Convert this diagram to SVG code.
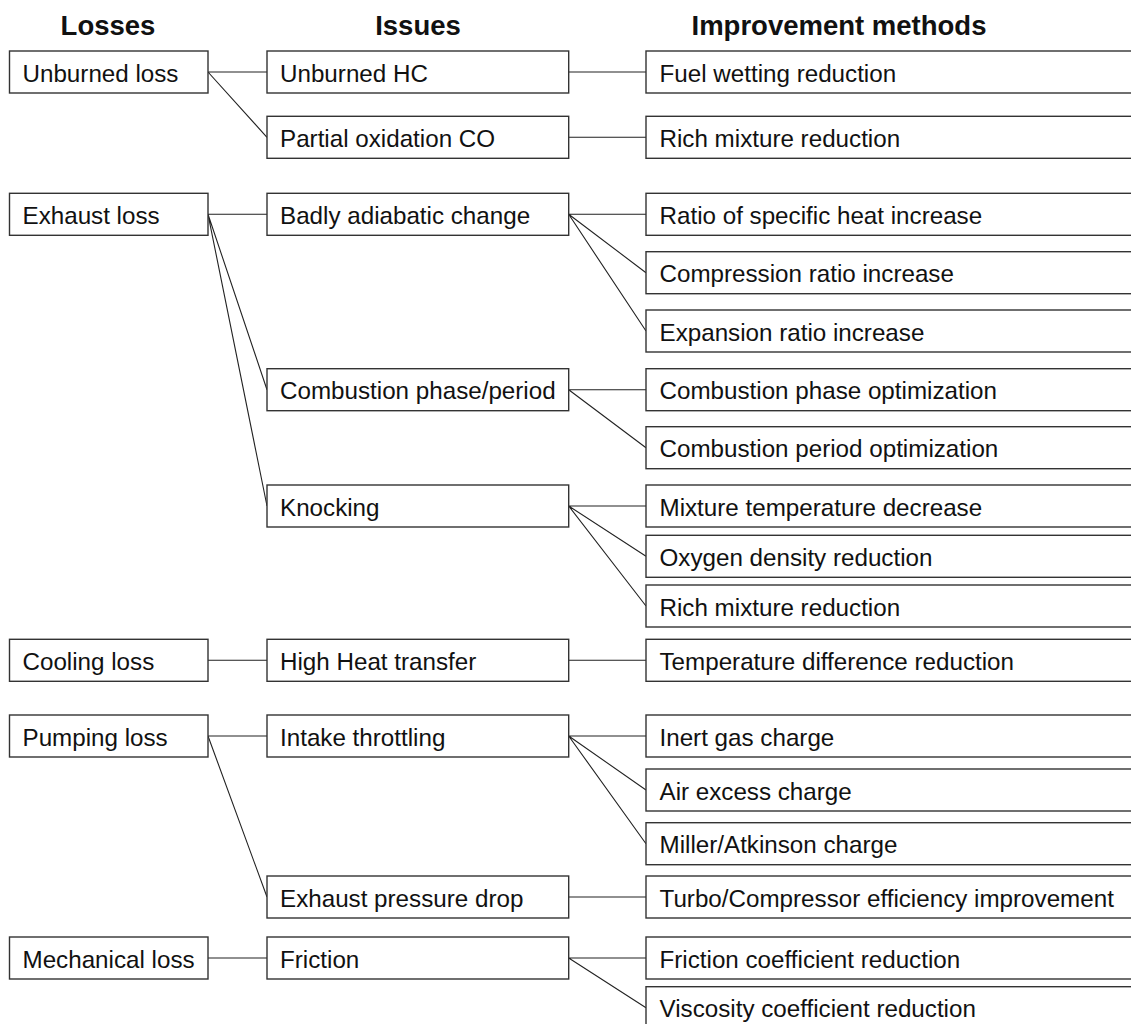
<svg xmlns="http://www.w3.org/2000/svg" width="1131" height="1024" viewBox="0 0 1131 1024">
<style>
.hd{font-family:"Liberation Sans",Arial,sans-serif;font-weight:bold;font-size:27.5px;fill:#111;text-anchor:middle}
.bx{fill:#fff;stroke:#333;stroke-width:1.4}
.tx{font-family:"Liberation Sans",Arial,sans-serif;font-size:24.2px;fill:#111}
.cn{stroke:#222;stroke-width:1.1;fill:none}
</style>
<rect width="1131" height="1024" fill="#fff"/>
<g id="headers">
<text class="hd" x="108" y="35">Losses</text>
<text class="hd" x="418" y="35">Issues</text>
<text class="hd" x="839" y="35">Improvement methods</text>
</g>
<g id="connectors">
<path class="cn" d="M208,72H267M208,72L267,137.3"/>
<path class="cn" d="M568.7,72H646M568.7,137.3H646"/>
<path class="cn" d="M208,214.3H267M208,214.3L267,389.7M208,214.3L267,506"/>
<path class="cn" d="M568.7,214.3H646M568.7,214.3L646,272.7M568.7,214.3L646,331"/>
<path class="cn" d="M568.7,389.7H646M568.7,389.7L646,447.7"/>
<path class="cn" d="M568.7,506H646M568.7,506L646,556.3M568.7,506L646,606"/>
<path class="cn" d="M208,660.3H267M568.7,660.3H646"/>
<path class="cn" d="M208,736H267M208,736L267,897"/>
<path class="cn" d="M568.7,736H646M568.7,736L646,790M568.7,736L646,843.7"/>
<path class="cn" d="M568.7,897H646"/>
<path class="cn" d="M208,958H267M568.7,958H646M568.7,958L646,1007.7"/>
</g>
<g id="loss-unburned"><rect class="bx" x="9.5" y="51" width="198.5" height="42"/><text class="tx" x="22.5" y="81.5">Unburned loss</text></g>
<g id="loss-exhaust"><rect class="bx" x="9.5" y="193.3" width="198.5" height="42"/><text class="tx" x="22.5" y="223.8">Exhaust loss</text></g>
<g id="loss-cooling"><rect class="bx" x="9.5" y="639.3" width="198.5" height="42"/><text class="tx" x="22.5" y="669.8">Cooling loss</text></g>
<g id="loss-pumping"><rect class="bx" x="9.5" y="715" width="198.5" height="42"/><text class="tx" x="22.5" y="745.5">Pumping loss</text></g>
<g id="loss-mechanical"><rect class="bx" x="9.5" y="937" width="198.5" height="42"/><text class="tx" x="22.5" y="967.5">Mechanical loss</text></g>

<g id="issue-unburned-hc"><rect class="bx" x="267" y="51" width="301.7" height="42"/><text class="tx" x="280" y="81.5">Unburned HC</text></g>
<g id="issue-partial-co"><rect class="bx" x="267" y="116.3" width="301.7" height="42"/><text class="tx" x="280" y="146.8">Partial oxidation CO</text></g>
<g id="issue-adiabatic"><rect class="bx" x="267" y="193.3" width="301.7" height="42"/><text class="tx" x="280" y="223.8">Badly adiabatic change</text></g>
<g id="issue-combustion"><rect class="bx" x="267" y="368.7" width="301.7" height="42"/><text class="tx" x="280" y="399.2">Combustion phase/period</text></g>
<g id="issue-knocking"><rect class="bx" x="267" y="485" width="301.7" height="42"/><text class="tx" x="280" y="515.5">Knocking</text></g>
<g id="issue-heat"><rect class="bx" x="267" y="639.3" width="301.7" height="42"/><text class="tx" x="280" y="669.8">High Heat transfer</text></g>
<g id="issue-intake"><rect class="bx" x="267" y="715" width="301.7" height="42"/><text class="tx" x="280" y="745.5">Intake throttling</text></g>
<g id="issue-exhaust-drop"><rect class="bx" x="267" y="876" width="301.7" height="42"/><text class="tx" x="280" y="906.5">Exhaust pressure drop</text></g>
<g id="issue-friction"><rect class="bx" x="267" y="937" width="301.7" height="42"/><text class="tx" x="280" y="967.5">Friction</text></g>

<g id="m-fuel"><rect class="bx" x="646" y="51" width="500" height="42"/><text class="tx" x="659.5" y="81.5">Fuel wetting reduction</text></g>
<g id="m-rich1"><rect class="bx" x="646" y="116.3" width="500" height="42"/><text class="tx" x="659.5" y="146.8">Rich mixture reduction</text></g>
<g id="m-ratio"><rect class="bx" x="646" y="193.3" width="500" height="42"/><text class="tx" x="659.5" y="223.8">Ratio of specific heat increase</text></g>
<g id="m-compression"><rect class="bx" x="646" y="251.7" width="500" height="42"/><text class="tx" x="659.5" y="282.2">Compression ratio increase</text></g>
<g id="m-expansion"><rect class="bx" x="646" y="310" width="500" height="42"/><text class="tx" x="659.5" y="340.5">Expansion ratio increase</text></g>
<g id="m-phase"><rect class="bx" x="646" y="368.7" width="500" height="42"/><text class="tx" x="659.5" y="399.2">Combustion phase optimization</text></g>
<g id="m-period"><rect class="bx" x="646" y="426.7" width="500" height="42"/><text class="tx" x="659.5" y="457.2">Combustion period optimization</text></g>
<g id="m-mixtemp"><rect class="bx" x="646" y="485" width="500" height="42"/><text class="tx" x="659.5" y="515.5">Mixture temperature decrease</text></g>
<g id="m-oxygen"><rect class="bx" x="646" y="535.3" width="500" height="42"/><text class="tx" x="659.5" y="565.8">Oxygen density reduction</text></g>
<g id="m-rich2"><rect class="bx" x="646" y="585" width="500" height="42"/><text class="tx" x="659.5" y="615.5">Rich mixture reduction</text></g>
<g id="m-tempdiff"><rect class="bx" x="646" y="639.3" width="500" height="42"/><text class="tx" x="659.5" y="669.8">Temperature difference reduction</text></g>
<g id="m-inert"><rect class="bx" x="646" y="715" width="500" height="42"/><text class="tx" x="659.5" y="745.5">Inert gas charge</text></g>
<g id="m-air"><rect class="bx" x="646" y="769" width="500" height="42"/><text class="tx" x="659.5" y="799.5">Air excess charge</text></g>
<g id="m-miller"><rect class="bx" x="646" y="822.7" width="500" height="42"/><text class="tx" x="659.5" y="853.2">Miller/Atkinson charge</text></g>
<g id="m-turbo"><rect class="bx" x="646" y="876" width="500" height="42"/><text class="tx" x="659.5" y="906.5">Turbo/Compressor efficiency improvement</text></g>
<g id="m-friction"><rect class="bx" x="646" y="937" width="500" height="42"/><text class="tx" x="659.5" y="967.5">Friction coefficient reduction</text></g>
<g id="m-viscosity"><rect class="bx" x="646" y="986.7" width="500" height="42"/><text class="tx" x="659.5" y="1017.2">Viscosity coefficient reduction</text></g>
</svg>
